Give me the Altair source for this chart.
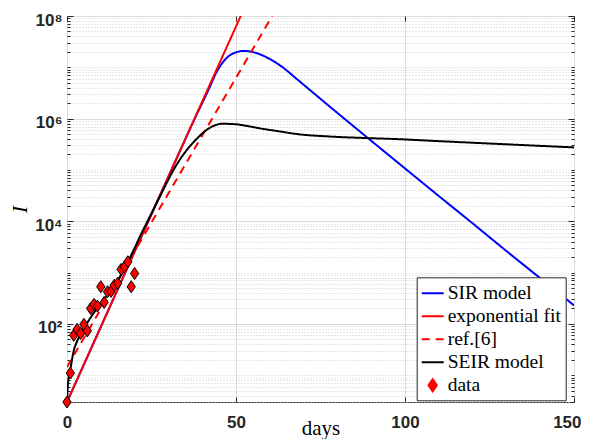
import altair as alt
import pandas as pd

# ---- data ----
sir_days = [0, 10, 20, 30, 38, 42, 44.3, 47.2, 49.7, 52.5, 56, 60, 64, 68, 72, 76, 80, 85, 90, 100, 110, 120,
            130, 140, 150]
sir_vals = [3, 87, 2570, 74000, 1.07e6, 3.8e6, 8.2e6, 1.51e7, 1.93e7, 2.09e7, 1.9e7, 1.45e7, 9.8e6, 5.9e6,
            3.55e6, 2.14e6, 1.29e6, 6.9e5, 3.7e5, 1.07e5, 3.1e4, 9100, 2630, 776, 229]

exp_days = [0, 51.4]
exp_vals = [3, 1e8]

ref_days = [0, 60.7]
ref_vals = [14.5, 1e8]

seir_days = [0, 0.3, 1, 2, 3, 4, 6, 8, 10, 12, 14, 16, 18, 20, 22, 24, 28, 31, 34, 38, 42, 46, 50, 53, 58, 63,
             68, 78, 89, 98, 107, 120, 135, 150]
seir_vals = [3, 7, 13, 30, 46, 62, 105, 166, 250, 363, 525, 890, 1600, 3000, 5750, 10500, 35500, 87000, 182000,
             380000, 646000, 794000, 776000, 724000, 631000, 562000, 501000, 447000, 417000, 398000, 372000,
             339000, 305000, 275000]

data_days = list(range(21))
data_vals = [3, 11, 60, 78, 65, 98, 73, 200, 240, 222, 528, 262, 423, 430, 565, 617, 1150, 1290, 1620, 528, 960]

series_names = ["SIR model", "exponential fit", "ref.[6]", "SEIR model", "data"]
series_colors = ["#0000ff", "#ff0000", "#ff0000", "#000000", "#ff0000"]
DIAMOND = "M-0.38,0L0,-0.55L0.38,0L0,0.55Z"
series_shapes = ["stroke", "stroke", "stroke", "stroke", DIAMOND]
series_dashes = [[1, 0], [1, 0], [8, 6], [1, 0], [1, 0]]

y_ticks = [3, 4, 5, 6, 7, 8, 9]
for k in range(1, 8):
    y_ticks += [m * 10 ** k for m in range(1, 10)]
y_ticks.append(10 ** 8)
x_ticks = [0, 50, 100, 150]

# ---- tables ----
df_main = pd.concat([
    pd.DataFrame({"day": sir_days, "I": sir_vals, "series": "SIR model"}),
    pd.DataFrame({"day": exp_days, "I": exp_vals, "series": "exponential fit"}),
    pd.DataFrame({"day": ref_days, "I": ref_vals, "series": "ref.[6]"}),
])
df_seir = pd.DataFrame({"day": seir_days, "I": seir_vals, "series": "SEIR model"})
df_data = pd.DataFrame({"day": data_days, "I": data_vals, "series": "data"})

W, H = 507, 386
MAJOR = "indexof([100, 10000, 1000000, 100000000], datum.value) >= 0"
FRAME = "#262626"

xscale = alt.Scale(domain=[0, 150], nice=False, zero=False)
yscale = alt.Scale(type="log", domain=[3, 1e8], nice=False)

legend = alt.Legend(
    title=None, orient="none", legendX=349.7, legendY=261.3,
    padding=4, rowPadding=1, symbolSize=484, symbolStrokeWidth=2,
    symbolFillColor="#ff0000", symbolOpacity=1,
    labelOffset=3, labelFont="Liberation Serif", labelFontSize=19.5, labelColor="black",
    labelLimit=400, strokeColor=FRAME, fillColor="white", cornerRadius=0,
)
color = alt.Color("series:N", scale=alt.Scale(domain=series_names, range=series_colors), legend=legend)
dash = alt.StrokeDash("series:N", scale=alt.Scale(domain=series_names, range=series_dashes), legend=legend)
shape = alt.Shape("series:N", scale=alt.Scale(domain=series_names, range=series_shapes), legend=legend)

label_expr = ("datum.value == 100 ? '10\u00b2' : datum.value == 10000 ? '10\u2074' : "
              "datum.value == 1000000 ? '10\u2076' : datum.value == 100000000 ? '10\u2078' : ''")

LAST_X = "datum.value == 150"
x_main = alt.X("day:Q", scale=xscale, axis=alt.Axis(
    values=x_ticks, grid=True, gridColor="#dcdcdc", gridWidth=1, ticks=False, domain=False,
    labelFont="Liberation Sans", labelFontWeight="bold", labelFontSize=17, labelColor=FRAME,
    labelPadding=12, labelFlush=False, labelOverlap=False,
    labelAlign={"condition": {"test": LAST_X, "value": "right"}, "value": "center"},
    labelOffset={"condition": {"test": LAST_X, "value": 7}, "value": 0},
    title="days", titleFont="Liberation Serif", titleFontWeight="normal", titleFontSize=21,
    titleColor="black", titleY=32, titleBaseline="alphabetic"))
y_main = alt.Y("I:Q", scale=yscale, axis=alt.Axis(
    values=y_ticks, labelExpr=label_expr, labelOverlap=False,
    grid=True, gridWidth=1,
    gridColor={"condition": {"test": MAJOR, "value": "#dcdcdc"}, "value": "#d0d0d0"},
    gridDash={"condition": {"test": MAJOR, "value": []}, "value": [1, 2]},
    ticks=False, domain=False,
    labelFont="Liberation Sans, DejaVu Sans", labelFontWeight="bold", labelFontSize=17, labelColor=FRAME,
    labelPadding=5, labelOffset=4,
    title="I", titleFont="Liberation Serif", titleFontStyle="italic", titleFontWeight="normal",
    titleFontSize=21, titleColor="black", titleAngle=270, titleX=-47, titleY=193,
    titleBaseline="middle", titleAlign="center"))


def tick_axes(x_orient, y_orient):
    xa = alt.X("day:Q", scale=xscale, axis=alt.Axis(
        orient=x_orient, offset=-H, values=x_ticks, labels=False, grid=False, domain=False,
        ticks=True, tickSize=5, tickColor=FRAME, tickWidth=1, title=""))
    ya = alt.Y("I:Q", scale=yscale, axis=alt.Axis(
        orient=y_orient, offset=-W, values=y_ticks, labels=False, grid=False, domain=False,
        ticks=True, tickSize={"condition": {"test": MAJOR, "value": 6}, "value": 3},
        tickColor=FRAME, tickWidth=1, title=""))
    return xa, ya


xa2, ya2 = tick_axes("top", "right")
xa3, ya3 = tick_axes("bottom", "left")

main_lines = alt.Chart(df_main).mark_line(strokeWidth=2, clip=True, interpolate="monotone").encode(
    x=x_main, y=y_main, color=color, strokeDash=dash)
seir_line = alt.Chart(df_seir).mark_line(strokeWidth=2, clip=True, interpolate="monotone").encode(
    x=xa2, y=ya2, color=color, strokeDash=dash)
points = alt.Chart(df_data).mark_point(filled=True, size=480, stroke="black",
                                       strokeWidth=1, opacity=1).encode(
    x=xa3, y=ya3, color=color, shape=shape)

chart = alt.layer(main_lines, seir_line, points).resolve_axis(
    x="independent", y="independent"
).properties(
    width=W, height=H,
    autosize=alt.AutoSizeParams(type="none"),
    padding={"left": 59, "top": 8, "right": 7, "bottom": 37},
    background="white",
).configure_view(stroke=FRAME, strokeWidth=1)

chart.save("out.html", embed_options={"renderer": "svg", "actions": False})
